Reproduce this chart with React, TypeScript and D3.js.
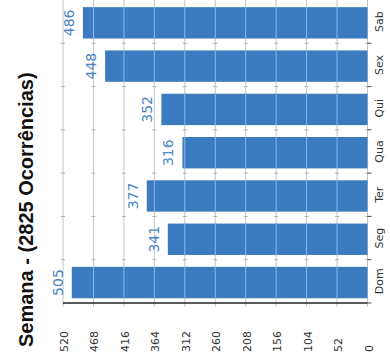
import React from "react";
import * as d3 from "d3";

const categories = ["Dom", "Seg", "Ter", "Qua", "Qui", "Sex", "Sab"];
const values = [505, 341, 377, 316, 352, 448, 486];
const tickValues = [0, 52, 104, 156, 208, 260, 312, 364, 416, 468, 520];
const title = "Semana - (2825 Ocorrências)";

const W = 390;
const H = 358;

export default function App() {
  const x = d3.scaleLinear().domain([0, 520]).range([367.5, 63]);
  const y = d3
    .scaleBand<string>()
    .domain([...categories].reverse())
    .range([0, 303]);
  const step = y.step();
  const barOff = step * 0.165;
  const barH = step * 0.725;
  const plotTop = 0;
  const plotBottom = 303;
  const boundaries = d3.range(0, categories.length + 1).map((i) => i * step);

  return (
    <svg
      width={W}
      height={H}
      style={{ position: "absolute", left: 0, top: 0, background: "#fff" }}
    >
      {/* grid lines behind bars */}
      {tickValues.map((t) => (
        <line
          key={"g" + t}
          x1={x(t)}
          x2={x(t)}
          y1={plotTop}
          y2={plotBottom + 4}
          stroke="#c4c4c4"
          strokeWidth={1}
        />
      ))}
      {/* small crosses at band boundaries on grid lines */}
      {tickValues.map((t) =>
        boundaries.slice(1, -1).map((b) => (
          <line
            key={"c" + t + "-" + b}
            x1={x(t) - 2}
            x2={x(t) + 2}
            y1={b}
            y2={b}
            stroke="#b0b0b0"
            strokeWidth={1}
          />
        ))
      )}
      {/* bars */}
      {categories.map((c, i) => (
        <rect
          key={"b" + c}
          x={x(values[i])}
          y={(y(c) as number) + barOff}
          width={x(0) - x(values[i])}
          height={barH}
          fill="#3b7bbf"
        />
      ))}
      {/* grid lines over bars */}
      {categories.map((c, i) =>
        tickValues
          .filter((t) => t > 0 && t < values[i])
          .map((t) => (
            <line
              key={"o" + c + t}
              x1={x(t)}
              x2={x(t)}
              y1={(y(c) as number) + barOff}
              y2={(y(c) as number) + barOff + barH}
              stroke="#8fb9ea"
              strokeWidth={1}
            />
          ))
      )}
      {/* category boundary ticks at right */}
      {boundaries.slice(1).map((b) => (
        <line
          key={"rt" + b}
          x1={x(0)}
          x2={x(0) + 4}
          y1={b}
          y2={b}
          stroke="#555"
          strokeWidth={1}
        />
      ))}
      {/* axis baseline */}
      <line
        x1={x(520)}
        x2={x(0)}
        y1={plotBottom}
        y2={plotBottom}
        stroke="#222"
        strokeWidth={1.3}
      />
      {/* value labels */}
      {categories.map((c, i) => {
        const cx = x(values[i]) - 9;
        const cy = (y(c) as number) + barOff + barH / 2;
        return (
          <text
            key={"v" + c}
            transform={`translate(${cx},${cy}) rotate(-90)`}
            textAnchor="middle"
            fontFamily="DejaVu Sans"
            fontSize={14}
            fill="#4d86c8"
          >
            {values[i]}
          </text>
        );
      })}
      {/* category labels */}
      {categories.map((c) => {
        const cy = (y(c) as number) + step / 2;
        return (
          <text
            key={"l" + c}
            transform={`translate(383,${cy}) rotate(-90)`}
            textAnchor="middle"
            fontFamily="DejaVu Sans"
            fontSize={11}
            fill="#333"
          >
            {c}
          </text>
        );
      })}
      {/* tick labels */}
      {tickValues.map((t) => (
        <text
          key={"t" + t}
          transform={`translate(${x(t) + 5},352) rotate(-90)`}
          textAnchor="start"
          fontFamily="DejaVu Sans"
          fontSize={11}
          fill="#333"
        >
          {t}
        </text>
      ))}
      {/* title */}
      <text
        transform={`translate(33,347) rotate(-90)`}
        textAnchor="start"
        fontFamily="Liberation Sans, Arial, sans-serif"
        fontWeight="bold"
        fontSize={20}
        fill="#111"
      >
        {title}
      </text>
    </svg>
  );
}
